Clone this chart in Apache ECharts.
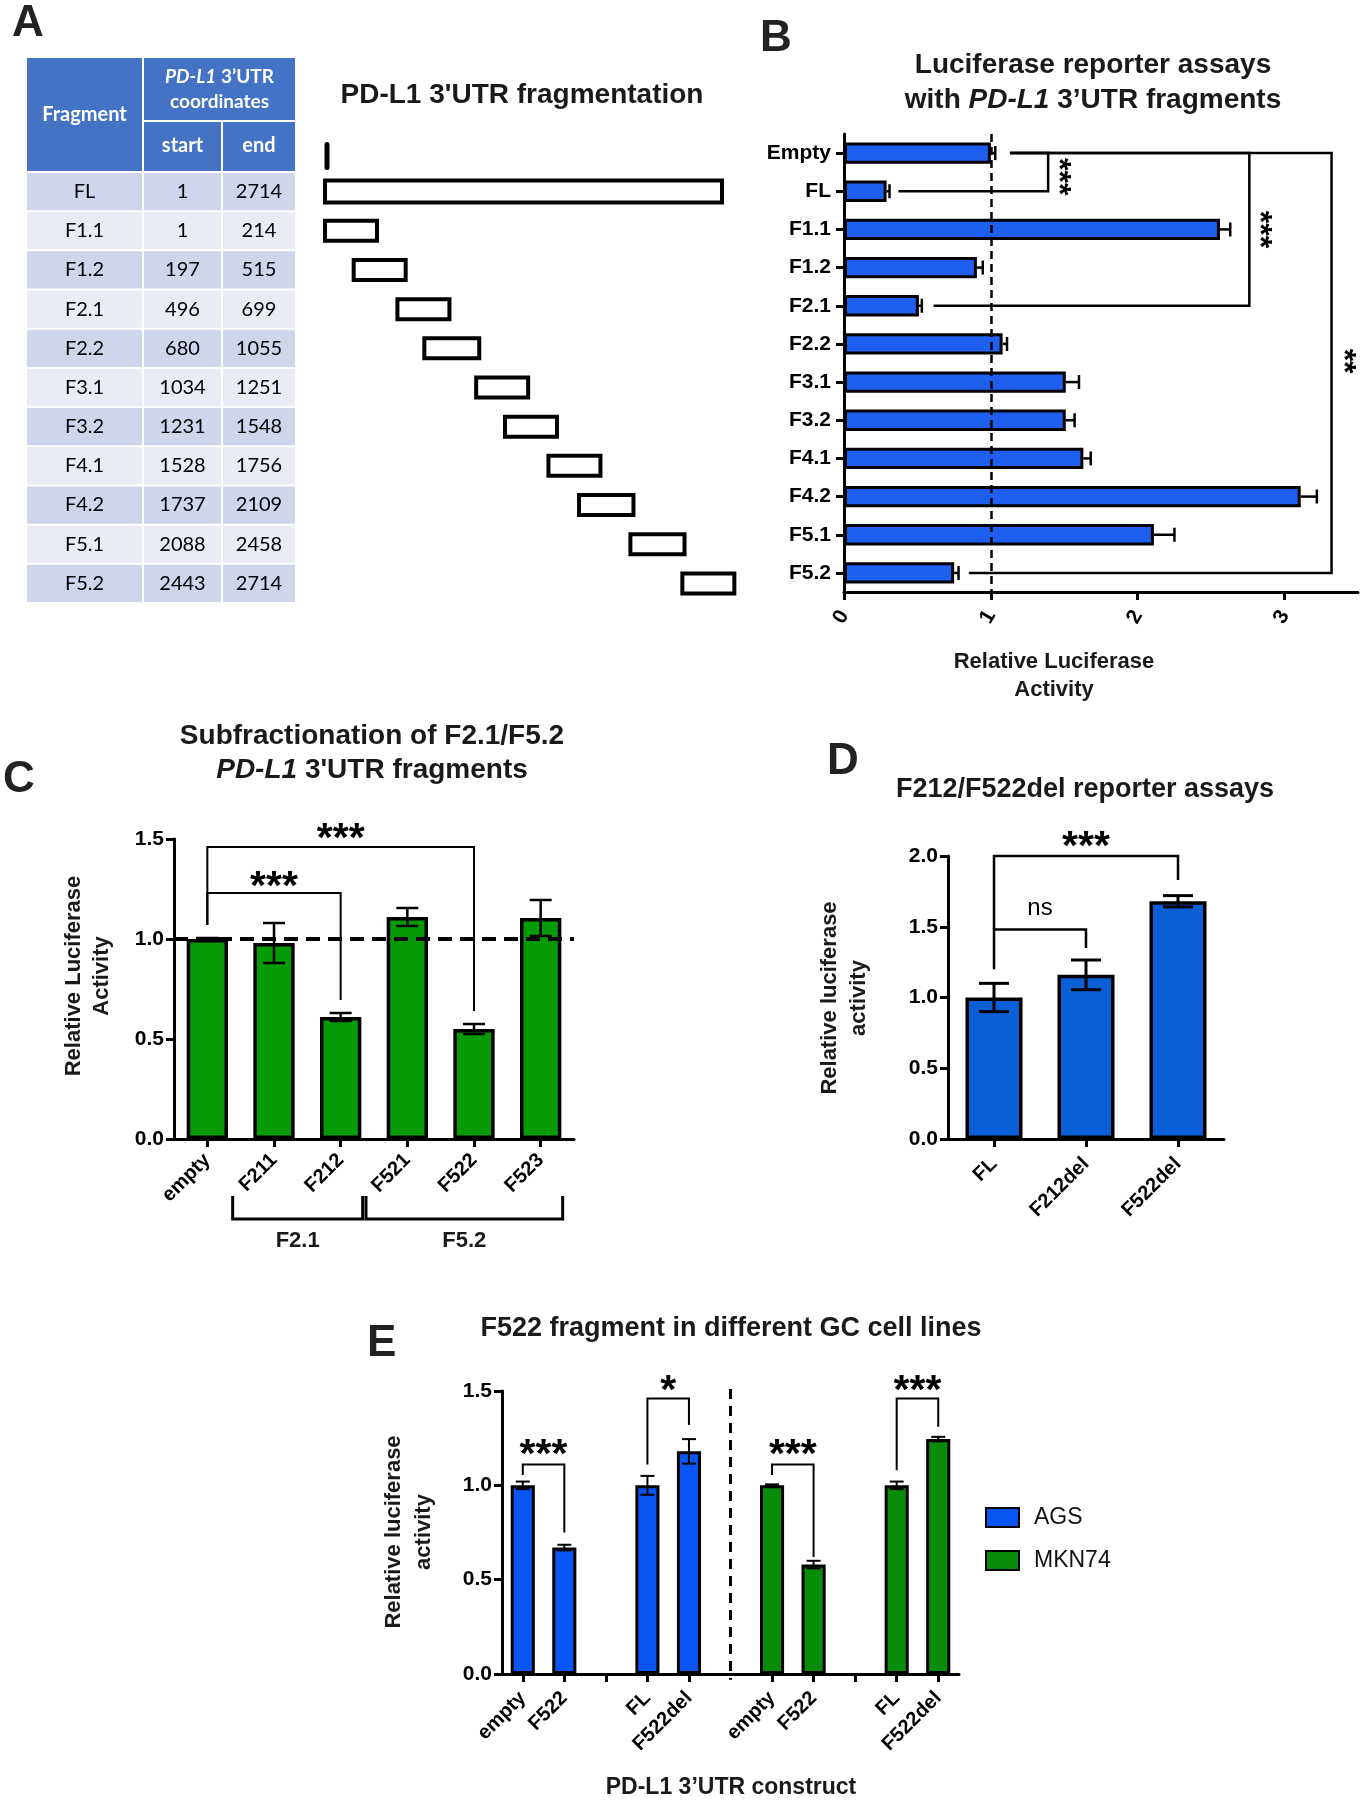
<!DOCTYPE html>
<html>
<head>
<meta charset="utf-8">
<title>PD-L1 3'UTR reporter assays</title>
<script src="https://cdn.jsdelivr.net/npm/echarts@6/dist/echarts.min.js"></script>
<style>
html,body{margin:0;padding:0;background:#ffffff;}
#chart{width:1366px;height:1800px;}
</style>
</head>
<body>
<div id="chart"></div>
<script>
// ===== Panel A: fragment table / schematic =====
const fragNames = ['FL','F1.1','F1.2','F2.1','F2.2','F3.1','F3.2','F4.1','F4.2','F5.1','F5.2'];
const fragStart = [1, 1, 197, 496, 680, 1034, 1231, 1528, 1737, 2088, 2443];
const fragEnd   = [2714, 214, 515, 699, 1055, 1251, 1548, 1756, 2109, 2458, 2714];

// ===== Panel B =====
const bCategories = ['Empty','FL','F1.1','F1.2','F2.1','F2.2','F3.1','F3.2','F4.1','F4.2','F5.1','F5.2'];
const bMeans = [1.00, 0.29, 2.56, 0.905, 0.51, 1.08, 1.51, 1.51, 1.63, 3.11, 2.11, 0.75];
const bErr   = [0.03, 0.02, 0.07, 0.04, 0.02, 0.03, 0.09, 0.06, 0.05, 0.11, 0.14, 0.03];
const bTicks = [0, 1, 2, 3];
// [rowA, rowB, xStartA, xStartB, xBracket, label, labelX, labelRow]
const bSig = [
  [0, 1, 1.13, 0.37, 1.39, '***', 1.51, 0.62],
  [0, 4, 1.13, 0.61, 2.76, '***', 2.88, 2.0],
  [0, 11, 1.13, 0.85, 3.32, '**', 3.45, 5.45]
];

// ===== Panel C =====
const cCategories = ['empty','F211','F212','F521','F522','F523'];
const cMeans = [1.00, 0.98, 0.61, 1.11, 0.55, 1.105];
const cErr   = [0.005, 0.10, 0.02, 0.045, 0.025, 0.09];
// [catA, catB, yA, yTop, yB, label, labelCat, labelY]
const cSig = [
  [0, 2, 1.07, 1.23, 0.695, '***', 1, 1.31],
  [0, 4, 1.07, 1.46, 0.64, '***', 2, 1.55]
];
const cGroups = ['F2.1', 'F5.2'];
const cGroupFirst = [1, 3];
const cGroupLast = [2, 5];

// ===== Panel D =====
const dCategories = ['FL','F212del','F522del'];
const dMeans = [1.00, 1.16, 1.68];
const dErr   = [0.10, 0.105, 0.04];
const dSig = [
  [0, 1, 1.20, 1.48, 1.35, 'ns', 0.5, 1.63],
  [0, 2, 1.48, 2.00, 1.83, '***', 1, 2.13]
];

// ===== Panel E =====
const eCategories = ['empty','F522','','FL','F522del','','empty','F522','','FL','F522del'];
const agsIndex = [0, 1, 3, 4];
const agsMeans = [1.00, 0.67, 1.00, 1.18];
const agsErr   = [0.02, 0.015, 0.05, 0.065];
const mknIndex = [6, 7, 9, 10];
const mknMeans = [1.00, 0.58, 1.00, 1.245];
const mknErr   = [0.005, 0.02, 0.02, 0.012];
const eDivider = 5;
const eSig = [
  [0, 1, 1.055, 1.11, 0.75, '***', 0.5, 1.21],
  [3, 4, 1.11, 1.46, 1.32, '*', 3.5, 1.55],
  [6, 7, 1.055, 1.11, 0.62, '***', 6.5, 1.21],
  [9, 10, 1.08, 1.46, 1.31, '***', 9.5, 1.55]
];

// ===== styling =====
const FAM = "'Liberation Sans', Arial, Helvetica, sans-serif";
const TFAM = "Lato, 'Open Sans', sans-serif";
const BLUE_B = '#1f5ff0', GREEN_C = '#079a07', BLUE_D = '#0a5fd6', BLUE_E = '#0a56f5', GREEN_E = '#098c09';
const TITLE = '#1a1a1a';

const chart = echarts.init(document.getElementById('chart'), null, {renderer: 'canvas'});

const colEdges = [0, 117, 196, 270];
function cellText(c, r) { return c === 0 ? fragNames[r] : (c === 1 ? String(fragStart[r]) : String(fragEnd[r])); }
const tableData = [];
fragNames.forEach((n, r) => { for (let c = 0; c < 3; c++) tableData.push([c, r]); });

function tableRender(params, api) {
  const c = api.value(0), r = api.value(1);
  const cs = params.coordSys;
  const p = api.coord([0, r]);
  const bh = api.size([0, 1])[1];
  const x = cs.x + colEdges[c], w = colEdges[c + 1] - colEdges[c];
  const y = p[1] - bh / 2;
  return {type: 'group', children: [
    {type: 'rect', shape: {x: x + 1, y: y + 1, width: w - 2, height: bh - 2}, style: {fill: r % 2 === 0 ? '#CFD5EA' : '#E9EBF5'}},
    {type: 'text', x: x + w / 2, y: p[1], style: {text: cellText(c, r), font: `20px ${TFAM}`, fill: '#000', align: 'center', verticalAlign: 'middle'}}
  ]};
}
function headerRender(params, api) {
  const cs = params.coordSys;
  const x0 = cs.x, top = cs.y - 115, split = cs.y - 51;
  const H = '#4472C4';
  const tf = (fs, st) => ({fontSize: fs, fontWeight: 'bold', fontStyle: st || 'normal', fontFamily: 'Lato, Open Sans, sans-serif', fill: '#fff'});
  return {type: 'group', children: [
    {type: 'rect', shape: {x: x0 + 1, y: top + 1, width: 115, height: 113}, style: {fill: H}},
    {type: 'rect', shape: {x: x0 + 118, y: top + 1, width: 151, height: 62}, style: {fill: H}},
    {type: 'rect', shape: {x: x0 + 118, y: split + 1, width: 77, height: 49}, style: {fill: H}},
    {type: 'rect', shape: {x: x0 + 197, y: split + 1, width: 72, height: 49}, style: {fill: H}},
    {type: 'text', x: x0 + 58.5, y: top + 58, style: {text: 'Fragment', font: `bold 20px ${TFAM}`, fill: '#fff', align: 'center', verticalAlign: 'middle'}},
    {type: 'text', x: x0 + 193.5, y: top + 32, style: {text: '{i|PD-L1}{b| 3’UTR}\n{b|coordinates}', align: 'center', verticalAlign: 'middle', lineHeight: 25, rich: {i: Object.assign(tf(19, 'italic'), {lineHeight: 25}), b: Object.assign(tf(19), {lineHeight: 25})}}},
    {type: 'text', x: x0 + 156.5, y: split + 25, style: {text: 'start', font: `bold 20px ${TFAM}`, fill: '#fff', align: 'center', verticalAlign: 'middle'}},
    {type: 'text', x: x0 + 233, y: split + 25, style: {text: 'end', font: `bold 20px ${TFAM}`, fill: '#fff', align: 'center', verticalAlign: 'middle'}}
  ]};
}
function fragRender(params, api) {
  const i = params.dataIndex;
  const s = api.coord([api.value(0), api.value(1)]);
  const e = api.coord([api.value(2), api.value(1)]);
  const h = i === 0 ? 22 : 20;
  const w = Math.max(e[0] - s[0], 52);
  const kids = [{type: 'rect', shape: {x: s[0], y: s[1] - h / 2, width: w, height: h}, style: {fill: '#fff', stroke: '#000', lineWidth: 4}}];
  if (i === 0) {
    kids.push({type: 'line', shape: {x1: s[0] + 2, y1: s[1] - 47, x2: s[0] + 2, y2: s[1] - 24}, style: {stroke: '#000', lineWidth: 5, lineCap: 'round'}});
  }
  return {type: 'group', children: kids};
}

function hErrRender(params, api) {
  const m = api.value(0), r = api.value(1), e = api.value(2);
  const a = api.coord([m, r]), b = api.coord([m + e, r]);
  const st = {stroke: '#000', lineWidth: 2.5};
  return {type: 'group', children: [
    {type: 'line', shape: {x1: a[0], y1: a[1], x2: b[0], y2: b[1]}, style: st},
    {type: 'line', shape: {x1: b[0], y1: b[1] - 7, x2: b[0], y2: b[1] + 7}, style: st}
  ]};
}
function makeVErr(capHalf, lw) {
  return function (params, api) {
    const x = api.value(0), m = api.value(1), e = api.value(2);
    const t = api.coord([x, m + e]), b = api.coord([x, m - e]);
    const st = {stroke: '#000', lineWidth: lw};
    return {type: 'group', children: [
      {type: 'line', shape: {x1: t[0], y1: t[1], x2: b[0], y2: b[1]}, style: st},
      {type: 'line', shape: {x1: t[0] - capHalf, y1: t[1], x2: t[0] + capHalf, y2: t[1]}, style: st},
      {type: 'line', shape: {x1: b[0] - capHalf, y1: b[1], x2: b[0] + capHalf, y2: b[1]}, style: st}
    ]};
  };
}
function bBracketRender(params, api) {
  const s = bSig[params.dataIndex];
  const pA = api.coord([s[2], s[0]]), pV1 = api.coord([s[4], s[0]]), pV2 = api.coord([s[4], s[1]]), pB = api.coord([s[3], s[1]]);
  const r0 = api.coord([s[6], 0]), r1 = api.coord([s[6], 1]);
  const ly = r0[1] + (r1[1] - r0[1]) * s[7];
  const fs = 32;
  return {type: 'group', children: [
    {type: 'polyline', shape: {points: [pA, pV1, pV2, pB]}, style: {stroke: '#000', lineWidth: 2.5, fill: 'none'}},
    {type: 'text', x: r0[0] - 0.25 * fs, y: ly, rotation: -Math.PI / 2, style: {text: s[5], font: `bold ${fs}px ${FAM}`, fill: '#000', align: 'center', verticalAlign: 'middle'}}
  ]};
}
function makeVBracket(sig, lw) {
  return function (params, api) {
    const s = sig[params.dataIndex];
    const p1 = api.coord([s[0], s[2]]), p2 = api.coord([s[0], s[3]]), p3 = api.coord([s[1], s[3]]), p4 = api.coord([s[1], s[4]]);
    const c0 = api.coord([0, s[7]]), c1 = api.coord([1, s[7]]);
    const lx = c0[0] + (c1[0] - c0[0]) * s[6];
    const star = s[5].indexOf('*') >= 0;
    const fs = star ? 41 : 24;
    return {type: 'group', children: [
      {type: 'polyline', shape: {points: [p1, p2, p3, p4]}, style: {stroke: '#000', lineWidth: lw, fill: 'none'}},
      {type: 'text', x: lx, y: c0[1] + (star ? 0.25 * fs : 0), style: {text: s[5], font: `${star ? 'bold ' : ''}${fs}px ${FAM}`, fill: '#000', align: 'center', verticalAlign: 'middle'}}
    ]};
  };
}
function cGroupRender(params, api) {
  const i = params.dataIndex;
  const a = api.coord([cGroupFirst[i], 0]), b = api.coord([cGroupLast[i], 0]);
  const band = api.size([1, 0])[0];
  const xL = a[0] - 0.62 * band, xR = b[0] + 0.33 * band, base = a[1];
  return {type: 'group', children: [
    {type: 'polyline', shape: {points: [[xL, base + 57], [xL, base + 80], [xR, base + 80], [xR, base + 57]]}, style: {stroke: '#000', lineWidth: 3, fill: 'none'}},
    {type: 'text', x: (xL + xR) / 2, y: base + 102, style: {text: cGroups[i], font: `bold 22px ${FAM}`, fill: TITLE, align: 'center', verticalAlign: 'middle'}}
  ]};
}
function dividerRender(params, api) {
  const t = api.coord([api.value(0), api.value(1)]), b = api.coord([api.value(0), api.value(2)]);
  return {type: 'line', shape: {x1: t[0], y1: t[1], x2: b[0], y2: b[1]}, style: {stroke: '#000', lineWidth: 3, lineDash: [10, 7]}};
}

const axisLineStyle = {show: true, lineStyle: {color: '#000', width: 3}};
const tickStyle = {show: true, length: 8, lineStyle: {color: '#000', width: 3}};
const lab = (fs, extra) => Object.assign({color: '#000', fontFamily: FAM, fontWeight: 'bold', fontSize: fs}, extra || {});
const fmt1 = v => v.toFixed(1);

function fullCat(indexArr, vals) {
  const out = eCategories.map(() => '-');
  indexArr.forEach((ci, k) => { out[ci] = vals[k]; });
  return out;
}

function gtext(text, x, y, fs, opts) {
  opts = opts || {};
  return {type: 'text', x: x, y: y, rotation: opts.rotation || 0, z: 100, style: Object.assign({
    text: text, font: `${opts.weight || 'bold'} ${fs}px ${FAM}`, fill: opts.fill || TITLE,
    align: opts.align || 'center', verticalAlign: 'middle', lineHeight: opts.lh || fs * 1.2
  }, opts.rich ? {rich: opts.rich} : {})};
}
const richTitle = fs => ({
  b: {fontSize: fs, fontWeight: 'bold', fontFamily: 'Liberation Sans, Arial, sans-serif', fill: TITLE},
  i: {fontSize: fs, fontWeight: 'bold', fontStyle: 'italic', fontFamily: 'Liberation Sans, Arial, sans-serif', fill: TITLE}
});

const option = {
  animation: false,
  backgroundColor: '#fff',
  grid: [
    {left: 26, top: 172, width: 270, height: 431},
    {left: 325, top: 172, width: 397, height: 431},
    {left: 844, top: 134, width: 514, height: 458},
    {left: 174, top: 839, width: 400, height: 300},
    {left: 948, top: 856, width: 276, height: 283},
    {left: 502, top: 1391, width: 457, height: 283}
  ],
  xAxis: [
    {gridIndex: 0, type: 'value', min: 0, max: 3, show: false},
    {gridIndex: 1, type: 'value', min: 1, max: 2714, show: false},
    {gridIndex: 2, type: 'value', min: 0, max: 3.5, interval: 1, splitLine: {show: false},
      axisLine: axisLineStyle, axisTick: Object.assign({}, tickStyle, {customValues: bTicks}),
      axisLabel: lab(21, {rotate: 60, margin: 20, customValues: bTicks})},
    {gridIndex: 3, type: 'category', data: cCategories, axisLine: axisLineStyle,
      axisTick: Object.assign({alignWithLabel: true}, tickStyle),
      axisLabel: lab(20, {rotate: 45, margin: 18, interval: 0})},
    {gridIndex: 4, type: 'category', data: dCategories, axisLine: axisLineStyle,
      axisTick: Object.assign({alignWithLabel: true}, tickStyle),
      axisLabel: lab(20, {rotate: 45, margin: 22, interval: 0})},
    {gridIndex: 5, type: 'category', data: eCategories, axisLine: axisLineStyle,
      axisTick: Object.assign({alignWithLabel: true, interval: function (i) { return i !== eDivider; }}, tickStyle),
      axisLabel: lab(20, {rotate: 45, margin: 21, interval: 0})}
  ],
  yAxis: [
    {gridIndex: 0, type: 'category', data: fragNames, inverse: true, show: false},
    {gridIndex: 1, type: 'category', data: fragNames, inverse: true, show: false},
    {gridIndex: 2, type: 'category', data: bCategories, inverse: true, axisLine: axisLineStyle,
      axisTick: Object.assign({alignWithLabel: true}, tickStyle), axisLabel: lab(21, {margin: 13})},
    {gridIndex: 3, type: 'value', min: 0, max: 1.5, interval: 0.5, splitLine: {show: false},
      axisLine: axisLineStyle, axisTick: tickStyle, axisLabel: lab(21, {margin: 10, formatter: fmt1})},
    {gridIndex: 4, type: 'value', min: 0, max: 2, interval: 0.5, splitLine: {show: false},
      axisLine: axisLineStyle, axisTick: tickStyle, axisLabel: lab(21, {margin: 10, formatter: fmt1})},
    {gridIndex: 5, type: 'value', min: 0, max: 1.5, interval: 0.5, splitLine: {show: false},
      axisLine: axisLineStyle, axisTick: tickStyle, axisLabel: lab(21, {margin: 10, formatter: fmt1})}
  ],
  legend: {
    data: ['AGS', 'MKN74'], orient: 'vertical', left: 980, top: 1501, itemWidth: 33, itemHeight: 19, itemGap: 20,
    icon: 'rect', textStyle: {fontFamily: FAM, fontSize: 23, color: '#111', padding: [0, 0, 0, 10]}
  },
  series: [
    // A table
    {type: 'custom', name: 'tableHeader', xAxisIndex: 0, yAxisIndex: 0, data: [[0, 0]], renderItem: headerRender, clip: false, silent: true},
    {type: 'custom', name: 'table', xAxisIndex: 0, yAxisIndex: 0, data: tableData, renderItem: tableRender, clip: false, silent: true},
    // A schematic
    {type: 'custom', name: 'fragments', xAxisIndex: 1, yAxisIndex: 1, data: fragStart.map((s, i) => [s, i, fragEnd[i]]),
      encode: {x: 0, y: 1}, renderItem: fragRender, clip: false, silent: true},
    // B
    {type: 'bar', name: 'B', xAxisIndex: 2, yAxisIndex: 2, data: bMeans, barWidth: '56%', z: 2,
      itemStyle: {color: BLUE_B, borderColor: '#000', borderWidth: 3},
      markLine: {silent: true, symbol: 'none', label: {show: false}, lineStyle: {color: '#000', width: 2.5, type: [8, 5]}, data: [{xAxis: 1}]}},
    {type: 'custom', name: 'Berr', xAxisIndex: 2, yAxisIndex: 2, data: bMeans.map((m, i) => [m, i, bErr[i]]), encode: {x: 0, y: 1}, renderItem: hErrRender, z: 5, clip: false, silent: true},
    {type: 'custom', name: 'Bsig', xAxisIndex: 2, yAxisIndex: 2, data: bSig.map(s => [s[4], s[0]]), encode: {x: 0, y: 1}, renderItem: bBracketRender, z: 5, clip: false, silent: true},
    // C
    {type: 'bar', name: 'C', xAxisIndex: 3, yAxisIndex: 3, data: cMeans, barWidth: '62%', z: 2,
      itemStyle: {color: GREEN_C, borderColor: '#000', borderWidth: 3.5},
      markLine: {silent: true, symbol: 'none', label: {show: false}, z: 6, lineStyle: {color: '#000', width: 4, type: [14, 8]}, data: [{yAxis: 1}]}},
    {type: 'custom', name: 'Cerr', xAxisIndex: 3, yAxisIndex: 3, data: cMeans.map((m, i) => [i, m, cErr[i]]), renderItem: makeVErr(11, 2.5), z: 5, clip: false, silent: true},
    {type: 'custom', name: 'Csig', xAxisIndex: 3, yAxisIndex: 3, data: cSig.map(s => [s[0], s[3]]), renderItem: makeVBracket(cSig, 2), z: 5, clip: false, silent: true},
    {type: 'custom', name: 'Cgroups', xAxisIndex: 3, yAxisIndex: 3, data: cGroups.map((g, i) => [cGroupFirst[i], 0]), renderItem: cGroupRender, z: 5, clip: false, silent: true},
    // D
    {type: 'bar', name: 'D', xAxisIndex: 4, yAxisIndex: 4, data: dMeans, barWidth: '62%', z: 2,
      itemStyle: {color: BLUE_D, borderColor: '#000', borderWidth: 3.5}},
    {type: 'custom', name: 'Derr', xAxisIndex: 4, yAxisIndex: 4, data: dMeans.map((m, i) => [i, m, dErr[i]]), renderItem: makeVErr(15, 3), z: 5, clip: false, silent: true},
    {type: 'custom', name: 'Dsig', xAxisIndex: 4, yAxisIndex: 4, data: dSig.map(s => [s[0], s[3]]), renderItem: makeVBracket(dSig, 2.5), z: 5, clip: false, silent: true},
    // E
    {type: 'bar', name: 'AGS', xAxisIndex: 5, yAxisIndex: 5, data: fullCat(agsIndex, agsMeans), barWidth: '58%', barGap: '-100%', z: 2,
      itemStyle: {color: BLUE_E, borderColor: '#000', borderWidth: 3}},
    {type: 'bar', name: 'MKN74', xAxisIndex: 5, yAxisIndex: 5, data: fullCat(mknIndex, mknMeans), barWidth: '58%', barGap: '-100%', z: 2,
      itemStyle: {color: GREEN_E, borderColor: '#000', borderWidth: 3}},
    {type: 'custom', name: 'Eerr', xAxisIndex: 5, yAxisIndex: 5,
      data: agsIndex.map((ci, k) => [ci, agsMeans[k], agsErr[k]]).concat(mknIndex.map((ci, k) => [ci, mknMeans[k], mknErr[k]])),
      renderItem: makeVErr(7, 2), z: 5, clip: false, silent: true},
    {type: 'custom', name: 'Esig', xAxisIndex: 5, yAxisIndex: 5, data: eSig.map(s => [s[0], s[3]]), renderItem: makeVBracket(eSig, 2), z: 5, clip: false, silent: true},
    {type: 'custom', name: 'Ediv', xAxisIndex: 5, yAxisIndex: 5, data: [[eDivider, 1.51, -0.03]], renderItem: dividerRender, z: 5, clip: false, silent: true}
  ],
  graphic: [
    gtext('A', 12, 24, 44, {align: 'left', fill: '#222'}),
    gtext('B', 760, 39, 44, {align: 'left', fill: '#222'}),
    gtext('C', 3, 780, 44, {align: 'left', fill: '#222'}),
    gtext('D', 827, 762, 44, {align: 'left', fill: '#222'}),
    gtext('E', 367, 1344, 44, {align: 'left', fill: '#222'}),
    gtext("PD-L1 3'UTR fragmentation", 522, 95, 28),
    gtext('Luciferase reporter assays', 1093, 65, 28),
    gtext('{b|with }{i|PD-L1}{b| 3’UTR fragments}', 1093, 100, 28, {rich: richTitle(28)}),
    gtext('Relative Luciferase\nActivity', 1054, 676, 22, {lh: 28}),
    gtext('Subfractionation of F2.1/F5.2', 372, 736, 28),
    gtext("{i|PD-L1}{b| 3'UTR fragments}", 372, 770, 28, {rich: richTitle(28)}),
    gtext('Relative Luciferase\nActivity', 88, 976, 22, {lh: 28, rotation: Math.PI / 2}),
    gtext('F212/F522del reporter assays', 1085, 790, 27),
    gtext('Relative luciferase\nactivity', 844, 998, 22, {lh: 29, rotation: Math.PI / 2}),
    gtext('F522 fragment in different GC cell lines', 731, 1329, 27),
    gtext('Relative luciferase\nactivity', 409, 1532, 22, {lh: 30, rotation: Math.PI / 2}),
    gtext('PD-L1 3’UTR construct', 731, 1788, 23)
  ]
};
chart.setOption(option);
</script>
</body>
</html>
